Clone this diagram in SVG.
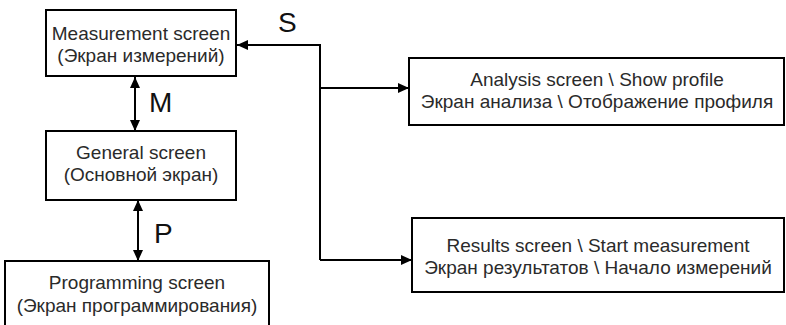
<svg xmlns="http://www.w3.org/2000/svg" width="786" height="325" viewBox="0 0 786 325">
<defs>
<marker id="ah" markerUnits="userSpaceOnUse" markerWidth="12" markerHeight="12" refX="11" refY="6" orient="auto-start-reverse">
<path d="M0,1 L11,6 L0,11 Z" fill="#000"/>
</marker>
</defs>
<style>
.box{fill:#fff;stroke:#000;stroke-width:2}
.t{font-family:"Liberation Sans",Arial,sans-serif;font-size:19px;fill:#2a2a2a;text-anchor:middle}
.lbl{font-family:"Liberation Sans",Arial,sans-serif;font-size:28px;fill:#111}
.c{fill:none;stroke:#000;stroke-width:2}
</style>
<rect width="786" height="325" fill="#fff"/>
<g id="connectors">
<line class="c" x1="135" y1="77" x2="135" y2="131" marker-start="url(#ah)" marker-end="url(#ah)"/>
<line class="c" x1="138" y1="200" x2="138" y2="261" marker-start="url(#ah)" marker-end="url(#ah)"/>
<polyline class="c" points="320,260 320,45 237,45" marker-end="url(#ah)"/>
<line class="c" x1="320" y1="88" x2="409" y2="88" marker-end="url(#ah)"/>
<line class="c" x1="320" y1="260" x2="412" y2="260" marker-end="url(#ah)"/>
<text class="lbl" x="278" y="32">S</text>
<text class="lbl" x="149" y="112">M</text>
<text class="lbl" x="154" y="243">P</text>
</g>
<g id="measurement">
<rect class="box" x="46" y="10" width="190" height="66"/>
<text class="t" x="141" y="40">Measurement screen</text>
<text class="t" x="141" y="62">(Экран измерений)</text>
</g>
<g id="general">
<rect class="box" x="46" y="131" width="190" height="69"/>
<text class="t" x="141" y="159">General screen</text>
<text class="t" x="141" y="181">(Основной экран)</text>
</g>
<g id="programming">
<rect class="box" x="5" y="261" width="264" height="70"/>
<text class="t" x="137" y="289">Programming screen</text>
<text class="t" x="137" y="312">(Экран программирования)</text>
</g>
<g id="analysis">
<rect class="box" x="409" y="58" width="375" height="67"/>
<text class="t" x="597" y="86">Analysis screen \ Show profile</text>
<text class="t" x="597" y="108">Экран анализа \ Отображение профиля</text>
</g>
<g id="results">
<rect class="box" x="412" y="218" width="372" height="74"/>
<text class="t" x="598" y="252">Results screen \ Start measurement</text>
<text class="t" x="598" y="274">Экран результатов \ Начало измерений</text>
</g>
</svg>
